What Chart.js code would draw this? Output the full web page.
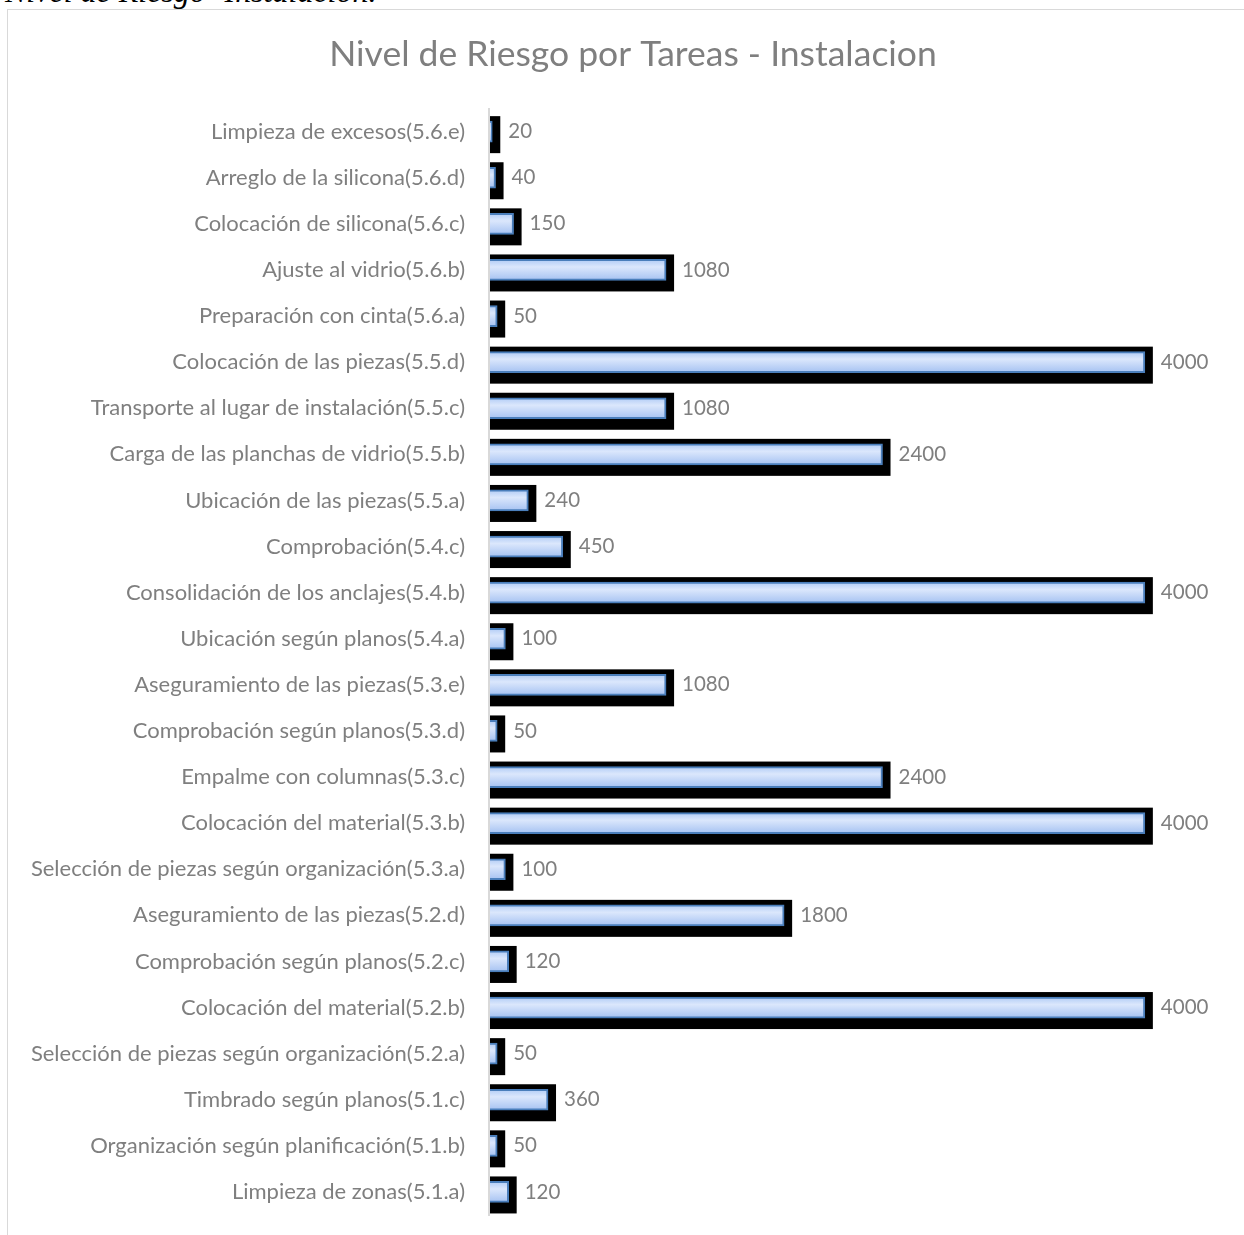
<!DOCTYPE html>
<html lang="es">
<head>
<meta charset="UTF-8">
<title>Nivel de Riesgo por Tareas - Instalacion</title>
<script src="https://cdn.jsdelivr.net/npm/chart.js"></script>
<style>
  html, body { margin: 0; padding: 0; background: #fff; overflow: hidden; }
  #caption {
    position: absolute; left: 5px; top: -24px;
    font: italic 32px/31px "Liberation Serif", "Times New Roman", serif;
    color: #000; white-space: nowrap;
  }
  #box {
    position: absolute; left: 7px; top: 9px; width: 1250px; height: 1240px;
    border-top: 1.5px solid #d9d9d9; border-left: 1.5px solid #d9d9d9;
  }
</style>
</head>
<body>
<div id="caption">Nivel de Riesgo -Instalación.</div>
<div id="box"><canvas id="chart" width="1250" height="1240"></canvas></div>
<script>
const tareas = [
  'Limpieza de excesos(5.6.e)',
  'Arreglo de la silicona(5.6.d)',
  'Colocación de silicona(5.6.c)',
  'Ajuste al vidrio(5.6.b)',
  'Preparación con cinta(5.6.a)',
  'Colocación de las piezas(5.5.d)',
  'Transporte al lugar de instalación(5.5.c)',
  'Carga de las planchas de vidrio(5.5.b)',
  'Ubicación de las piezas(5.5.a)',
  'Comprobación(5.4.c)',
  'Consolidación de los anclajes(5.4.b)',
  'Ubicación según planos(5.4.a)',
  'Aseguramiento de las piezas(5.3.e)',
  'Comprobación según planos(5.3.d)',
  'Empalme con columnas(5.3.c)',
  'Colocación del material(5.3.b)',
  'Selección de piezas según organización(5.3.a)',
  'Aseguramiento de las piezas(5.2.d)',
  'Comprobación según planos(5.2.c)',
  'Colocación del material(5.2.b)',
  'Selección de piezas según organización(5.2.a)',
  'Timbrado según planos(5.1.c)',
  'Organización según planificación(5.1.b)',
  'Limpieza de zonas(5.1.a)'
];
const nivelRiesgo = [20, 40, 150, 1080, 50, 4000, 1080, 2400, 240, 450, 4000, 100,
                     1080, 50, 2400, 4000, 100, 1800, 120, 4000, 50, 360, 50, 120];

const FONT = 'Lato, "Open Sans", sans-serif';

// black offset shadow behind each bar + value labels
const shadowPlugin = {
  id: 'shadow',
  beforeDatasetsDraw(chart) {
    const ctx = chart.ctx;
    const meta = chart.getDatasetMeta(0);
    ctx.save();
    ctx.fillStyle = '#000';
    meta.data.forEach(bar => {
      const p = bar.getProps(['x', 'y', 'base', 'height'], true);
      ctx.fillRect(p.base, p.y - p.height / 2 - 5, p.x - p.base + 8, p.height + 16);
    });
    ctx.restore();
  },
  afterDatasetsDraw(chart) {
    const ctx = chart.ctx;
    const meta = chart.getDatasetMeta(0);
    ctx.save();
    ctx.fillStyle = '#7f7f7f';
    ctx.font = '20.5px ' + FONT;
    ctx.textBaseline = 'middle';
    meta.data.forEach((bar, i) => {
      const p = bar.getProps(['x', 'y'], true);
      ctx.fillText(String(nivelRiesgo[i]), p.x + 16, p.y);
    });
    ctx.restore();
  }
};

function barFill(c) {
  const chart = c.chart;
  const ys = chart.scales.y;
  if (!ys || c.dataIndex === undefined) return '#c6d9f8';
  const y = ys.getPixelForValue(c.dataIndex);
  if (!isFinite(y)) return '#c6d9f8';
  const g = chart.ctx.createLinearGradient(0, y - 10, 0, y + 10);
  g.addColorStop(0, '#b3cdf6');
  g.addColorStop(0.35, '#dbe7fc');
  g.addColorStop(1, '#a7c3f2');
  return g;
}

new Chart(document.getElementById('chart'), {
  type: 'bar',
  data: {
    labels: tareas,
    datasets: [{
      data: nivelRiesgo,
      backgroundColor: barFill,
      borderColor: '#4a7ebb',
      borderWidth: 2,
      barThickness: 21
    }]
  },
  options: {
    indexAxis: 'y',
    responsive: false,
    animation: false,
    layout: { padding: { left: 0, right: 0, top: 0, bottom: 35 } },
    plugins: {
      legend: { display: false },
      tooltip: { enabled: false },
      title: {
        display: true,
        text: 'Nivel de Riesgo por Tareas - Instalacion',
        color: '#7f7f7f',
        font: { family: FONT, size: 35.5, weight: 'normal' },
        padding: { top: 23, bottom: 33 }
      }
    },
    scales: {
      x: { display: false, min: 0, max: 4690 },
      y: {
        grid: { display: false },
        border: { display: true, color: '#d9d9d9', width: 2, z: 1 },
        ticks: {
          color: '#7f7f7f',
          font: { family: FONT, size: 22 },
          padding: 16,
          autoSkip: false
        },
        afterFit(scale) { scale.width = 481; }
      }
    }
  },
  plugins: [shadowPlugin]
});
</script>
</body>
</html>
